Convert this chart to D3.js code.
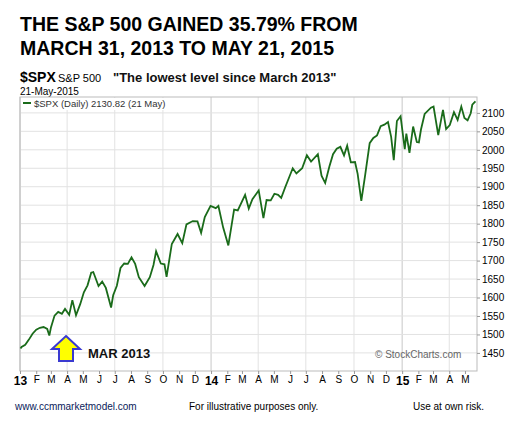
<!DOCTYPE html>
<html lang="en">
<head>
<meta charset="utf-8">
<title>SPX</title>
<script src="https://d3js.org/d3.v7.min.js"></script>
<style>
body { margin: 0; background: #fff; }
text { font-family: "Liberation Sans", Arial, sans-serif; }
</style>
</head>
<body>
<script>
var w = 526, h = 433;

// approximate weekly closes
var dates = ["2013-01-02","2013-01-04","2013-01-11","2013-01-18","2013-01-25","2013-02-01","2013-02-08","2013-02-15","2013-02-22","2013-02-26","2013-03-01","2013-03-08","2013-03-15","2013-03-22","2013-03-28","2013-04-05","2013-04-11","2013-04-18","2013-04-26","2013-05-03","2013-05-10","2013-05-17","2013-05-21","2013-05-31","2013-06-07","2013-06-14","2013-06-24","2013-06-28","2013-07-05","2013-07-12","2013-07-19","2013-07-26","2013-08-02","2013-08-09","2013-08-16","2013-08-27","2013-09-06","2013-09-13","2013-09-18","2013-09-27","2013-10-04","2013-10-08","2013-10-18","2013-10-29","2013-11-07","2013-11-15","2013-11-27","2013-12-06","2013-12-13","2013-12-20","2013-12-31","2014-01-10","2014-01-15","2014-01-24","2014-02-03","2014-02-14","2014-02-21","2014-03-07","2014-03-14","2014-03-21","2014-04-02","2014-04-11","2014-04-17","2014-04-25","2014-05-02","2014-05-09","2014-05-15","2014-05-23","2014-06-06","2014-06-13","2014-06-24","2014-07-03","2014-07-11","2014-07-24","2014-07-31","2014-08-07","2014-08-15","2014-08-22","2014-08-29","2014-09-05","2014-09-12","2014-09-18","2014-09-25","2014-10-03","2014-10-08","2014-10-15","2014-10-22","2014-10-31","2014-11-07","2014-11-14","2014-11-21","2014-11-28","2014-12-05","2014-12-11","2014-12-16","2014-12-22","2014-12-29","2015-01-06","2015-01-09","2015-01-15","2015-01-22","2015-01-29","2015-02-02","2015-02-06","2015-02-13","2015-02-25","2015-03-02","2015-03-11","2015-03-20","2015-03-26","2015-04-02","2015-04-10","2015-04-17","2015-04-24","2015-04-30","2015-05-06","2015-05-12","2015-05-15","2015-05-21"];
var closes = [1462,1466,1472,1486,1502,1513,1518,1520,1515,1497,1518,1551,1561,1556,1569,1553,1593,1552,1582,1614,1633,1667,1669,1631,1643,1626,1573,1606,1632,1680,1692,1691,1709,1691,1655,1631,1655,1688,1725,1692,1690,1656,1745,1772,1747,1798,1807,1806,1775,1818,1848,1842,1848,1790,1741,1838,1836,1878,1841,1866,1890,1815,1864,1863,1881,1878,1870,1900,1950,1936,1950,1985,1968,1988,1930,1910,1955,1988,2003,2008,1985,2011,1966,1967,1935,1862,1928,2018,2032,2039,2064,2068,2075,2035,1972,2078,2091,2002,2044,1992,2063,2021,2020,2055,2097,2114,2117,2040,2108,2056,2067,2102,2081,2117,2086,2080,2099,2122,2131];
var yTicks = [1450,1500,1550,1600,1650,1700,1750,1800,1850,1900,1950,2000,2050,2100];

var parse = d3.timeParse("%Y-%m-%d");
var data = dates.map(function(d, i) { return { date: parse(d), v: closes[i] }; });

var plotL = 20, plotR = 477, plotT = 97, plotB = 371;

var x = d3.scaleTime()
    .domain([parse("2013-01-01"), parse("2015-05-24")])
    .range([plotL, plotR]);
var y = d3.scaleLinear()
    .domain([1401, 2143])
    .range([plotB, plotT]);

var svg = d3.select("body").append("svg")
    .attr("width", w).attr("height", h);

// titles
svg.append("text").attr("x", 20).attr("y", 31)
    .attr("font-size", 19.5).attr("font-weight", "bold")
    .text("THE S&P 500 GAINED 35.79% FROM");
svg.append("text").attr("x", 20).attr("y", 55)
    .attr("font-size", 19.5).attr("font-weight", "bold")
    .text("MARCH 31, 2013 TO MAY 21, 2015");
svg.append("text").attr("x", 20).attr("y", 82)
    .attr("font-size", 14).attr("font-weight", "bold").text("$SPX");
svg.append("text").attr("x", 58).attr("y", 82)
    .attr("font-size", 11).text("S&P 500");
svg.append("text").attr("x", 20).attr("y", 95)
    .attr("font-size", 10).text("21-May-2015");
svg.append("text").attr("x", 113).attr("y", 82)
    .attr("font-size", 13).attr("font-weight", "bold").attr("fill", "#111")
    .text("\"The lowest level since March 2013\"");

// grid
var months = d3.timeMonth.range(parse("2013-01-01"), parse("2015-06-01"));
svg.selectAll("line.vg")
    .data(months.filter(function(m) { return m.getMonth() % 3 == 0; }))
    .enter().append("line")
    .attr("x1", function(d) { return x(d); }).attr("x2", function(d) { return x(d); })
    .attr("y1", plotT).attr("y2", plotB)
    .attr("stroke", function(d) { return d.getMonth() == 0 ? "#c8c8c8" : "#e2e2e2"; });
svg.selectAll("line.hg")
    .data(yTicks).enter().append("line")
    .attr("x1", plotL).attr("x2", plotR)
    .attr("y1", function(d) { return y(d); }).attr("y2", function(d) { return y(d); })
    .attr("stroke", "#e2e2e2");

svg.append("rect")
    .attr("x", plotL).attr("y", plotT)
    .attr("width", plotR - plotL).attr("height", plotB - plotT)
    .attr("fill", "none").attr("stroke", "#bbb");

// y axis on right
var ya = svg.append("g")
    .attr("transform", "translate(" + plotR + ",0)")
    .call(d3.axisRight(y).tickValues(yTicks).tickSize(3).tickPadding(2).tickFormat(d3.format("d")));
ya.select(".domain").remove();
ya.selectAll("line").attr("stroke", "#999");
ya.selectAll("text").attr("font-size", 10).attr("fill", "#000")
    .attr("font-family", "Liberation Sans, Arial, sans-serif");

// x axis month letters
var xa = svg.append("g")
    .attr("transform", "translate(0," + plotB + ")")
    .call(d3.axisBottom(x).tickValues(months).tickSize(3).tickPadding(2)
        .tickFormat(function(d) {
            return d.getMonth() == 0 ? d3.timeFormat("%y")(d) : d3.timeFormat("%b")(d).charAt(0);
        }));
xa.select(".domain").remove();
xa.selectAll("line").attr("stroke", "#999");
xa.selectAll("text")
    .attr("fill", "#000")
    .attr("font-family", "Liberation Sans, Arial, sans-serif")
    .attr("font-weight", function(d) { return d.getMonth() == 0 ? "bold" : "normal"; })
    .style("font-size", function(d) { return d.getMonth() == 0 ? "12px" : "10px"; });

// price line
svg.append("path")
    .datum(data)
    .attr("fill", "none")
    .attr("stroke", "#1a6b1a")
    .attr("stroke-width", 1.8)
    .attr("d", d3.line().x(function(d) { return x(d.date); }).y(function(d) { return y(d.v); }));

// legend
svg.append("rect").attr("x", plotL + 1).attr("y", plotT + 1)
    .attr("width", 186).attr("height", 12).attr("fill", "#fff");
svg.append("line").attr("x1", 23).attr("x2", 31).attr("y1", 103).attr("y2", 103)
    .attr("stroke", "#1a6b1a").attr("stroke-width", 2);
svg.append("text").attr("x", 34).attr("y", 107).attr("font-size", 9.5)
    .attr("font-family", "DejaVu Sans Mono, monospace").attr("fill", "#333")
    .text("$SPX (Daily) 2130.82 (21 May)");

// arrow annotation
svg.append("path")
    .attr("d", "M66,336 L80,349 L73,349 L73,361 L59,361 L59,349 L52,349 Z")
    .attr("fill", "#ffff00").attr("stroke", "#3a3ad0").attr("stroke-width", 2);
svg.append("text").attr("x", 88).attr("y", 358)
    .attr("font-size", 13).attr("font-weight", "bold").attr("fill", "#111").text("MAR 2013");
svg.append("text").attr("x", 375).attr("y", 358)
    .attr("font-size", 10).attr("fill", "#666").text("\u00a9 StockCharts.com");

// footer
svg.append("text").attr("x", 15).attr("y", 410).attr("font-size", 10).attr("fill", "#0a1a5a")
    .text("www.ccmmarketmodel.com");
svg.append("text").attr("x", 189).attr("y", 410).attr("font-size", 10)
    .text("For illustrative purposes only.");
svg.append("text").attr("x", 413).attr("y", 410).attr("font-size", 10)
    .text("Use at own risk.");
</script>
</body>
</html>
